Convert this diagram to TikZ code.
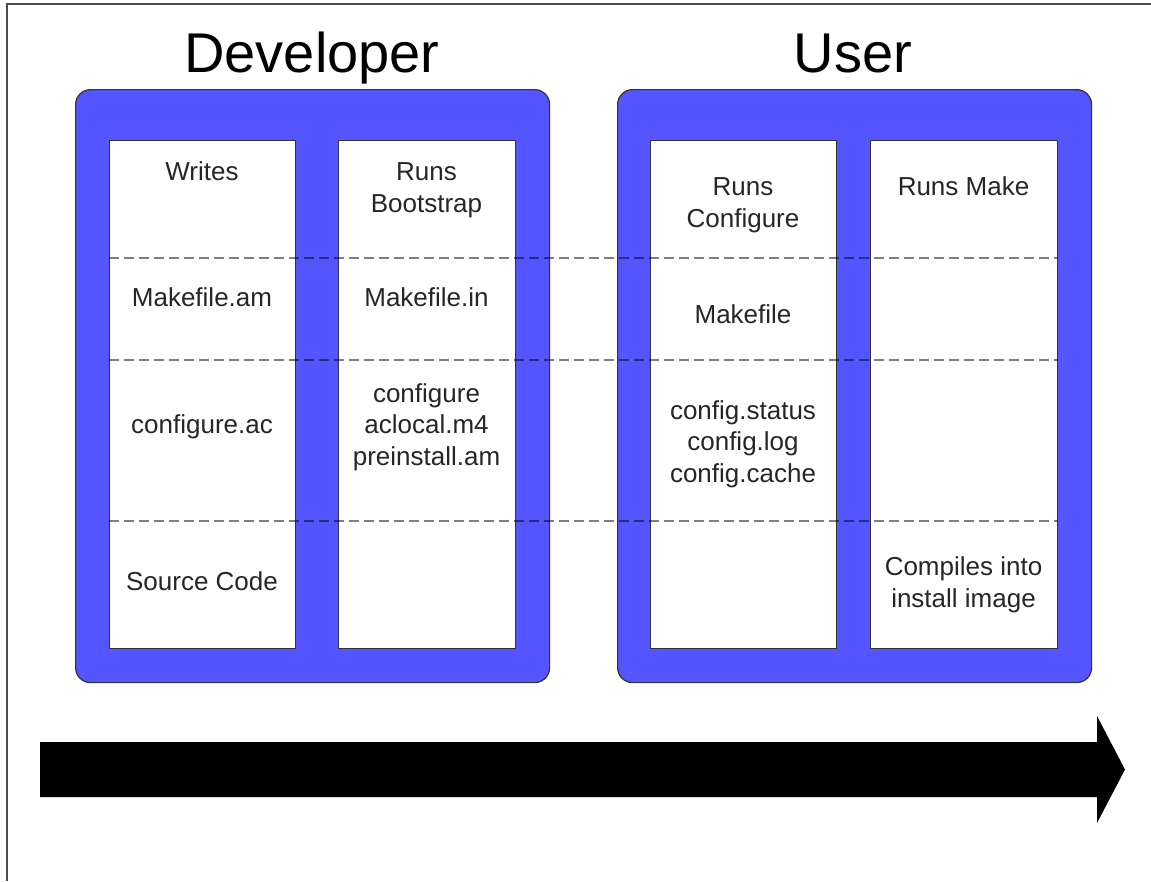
\documentclass[tikz,border=0pt]{standalone}
\usepackage{fontspec}
\setmainfont{Liberation Sans}
\definecolor{laneblue}{RGB}{85,85,255}

\begin{document}
\begin{tikzpicture}[x=1pt,y=-1pt,
  lane/.style={draw=black!80, line width=1.2pt, fill=laneblue, rounded corners=15pt, minimum width=474pt, minimum height=593pt, inner sep=0pt, anchor=north west},
  col/.style={draw=black!80, line width=1.2pt, fill=white, minimum width=186pt, minimum height=508pt, inner sep=0pt, anchor=north west},
  txt/.style={align=center, font=\fontsize{26}{31.5}\selectfont, text=black!85},
  title/.style={font=\fontsize{56}{60}\selectfont, anchor=base},
  sep/.style={black, opacity=0.5, line width=1.8pt, dash pattern=on 10pt off 5pt}]
\useasboundingbox (0,0) rectangle (1151,881);
\draw[black!70, line width=1.2pt] (7,881) -- (7,4) -- (1151,4);

\node[title] (dev) at (312,72) {Developer};
\node[title] (usr) at (853,72) {User};

\node[lane] (devlane) at (75,89) {};
\node[lane] (usrlane) at (617,89) {};
\node[col] (c1) at (109,140) {};
\node[col, minimum width=177pt] (c2) at (338,140) {};
\node[col] (c3) at (650,140) {};
\node[col, minimum width=187pt] (c4) at (870,140) {};

\foreach \y in {258,360,521}
  \draw[sep] (c1.west |- 0,\y) -- (c4.east |- 0,\y);

% developer side
\node[txt] (wr) at (202,171) {Writes};
\node[txt] (mam) at (202,297) {Makefile.am};
\node[txt] (cac) at (202,427) {configure.ac};
\node[txt] (src) at (202,581) {Source Code};
\node[txt] (bs) at (426.5,190) {Runs\\Bootstrap};
\node[txt] (min) at (426.5,297) {Makefile.in};
\node[txt] (cfg) at (426.5,427) {configure\\aclocal.m4\\preinstall.am};

% user side
\node[txt] (rc) at (743,205) {Runs\\Configure};
\node[txt] (mk) at (743,314) {Makefile};
\node[txt] (cst) at (743,444) {config.status\\config.log\\config.cache};
\node[txt] (rm) at (963.5,186.5) {Runs Make};
\node[txt] (cmp) at (963.5,585) {Compiles into\\install image};

\fill (40,742) -- (1097,742) -- (1097,716) -- (1125,769.5) -- (1097,823) -- (1097,797) -- (40,797) -- cycle;
\end{tikzpicture}
\end{document}
